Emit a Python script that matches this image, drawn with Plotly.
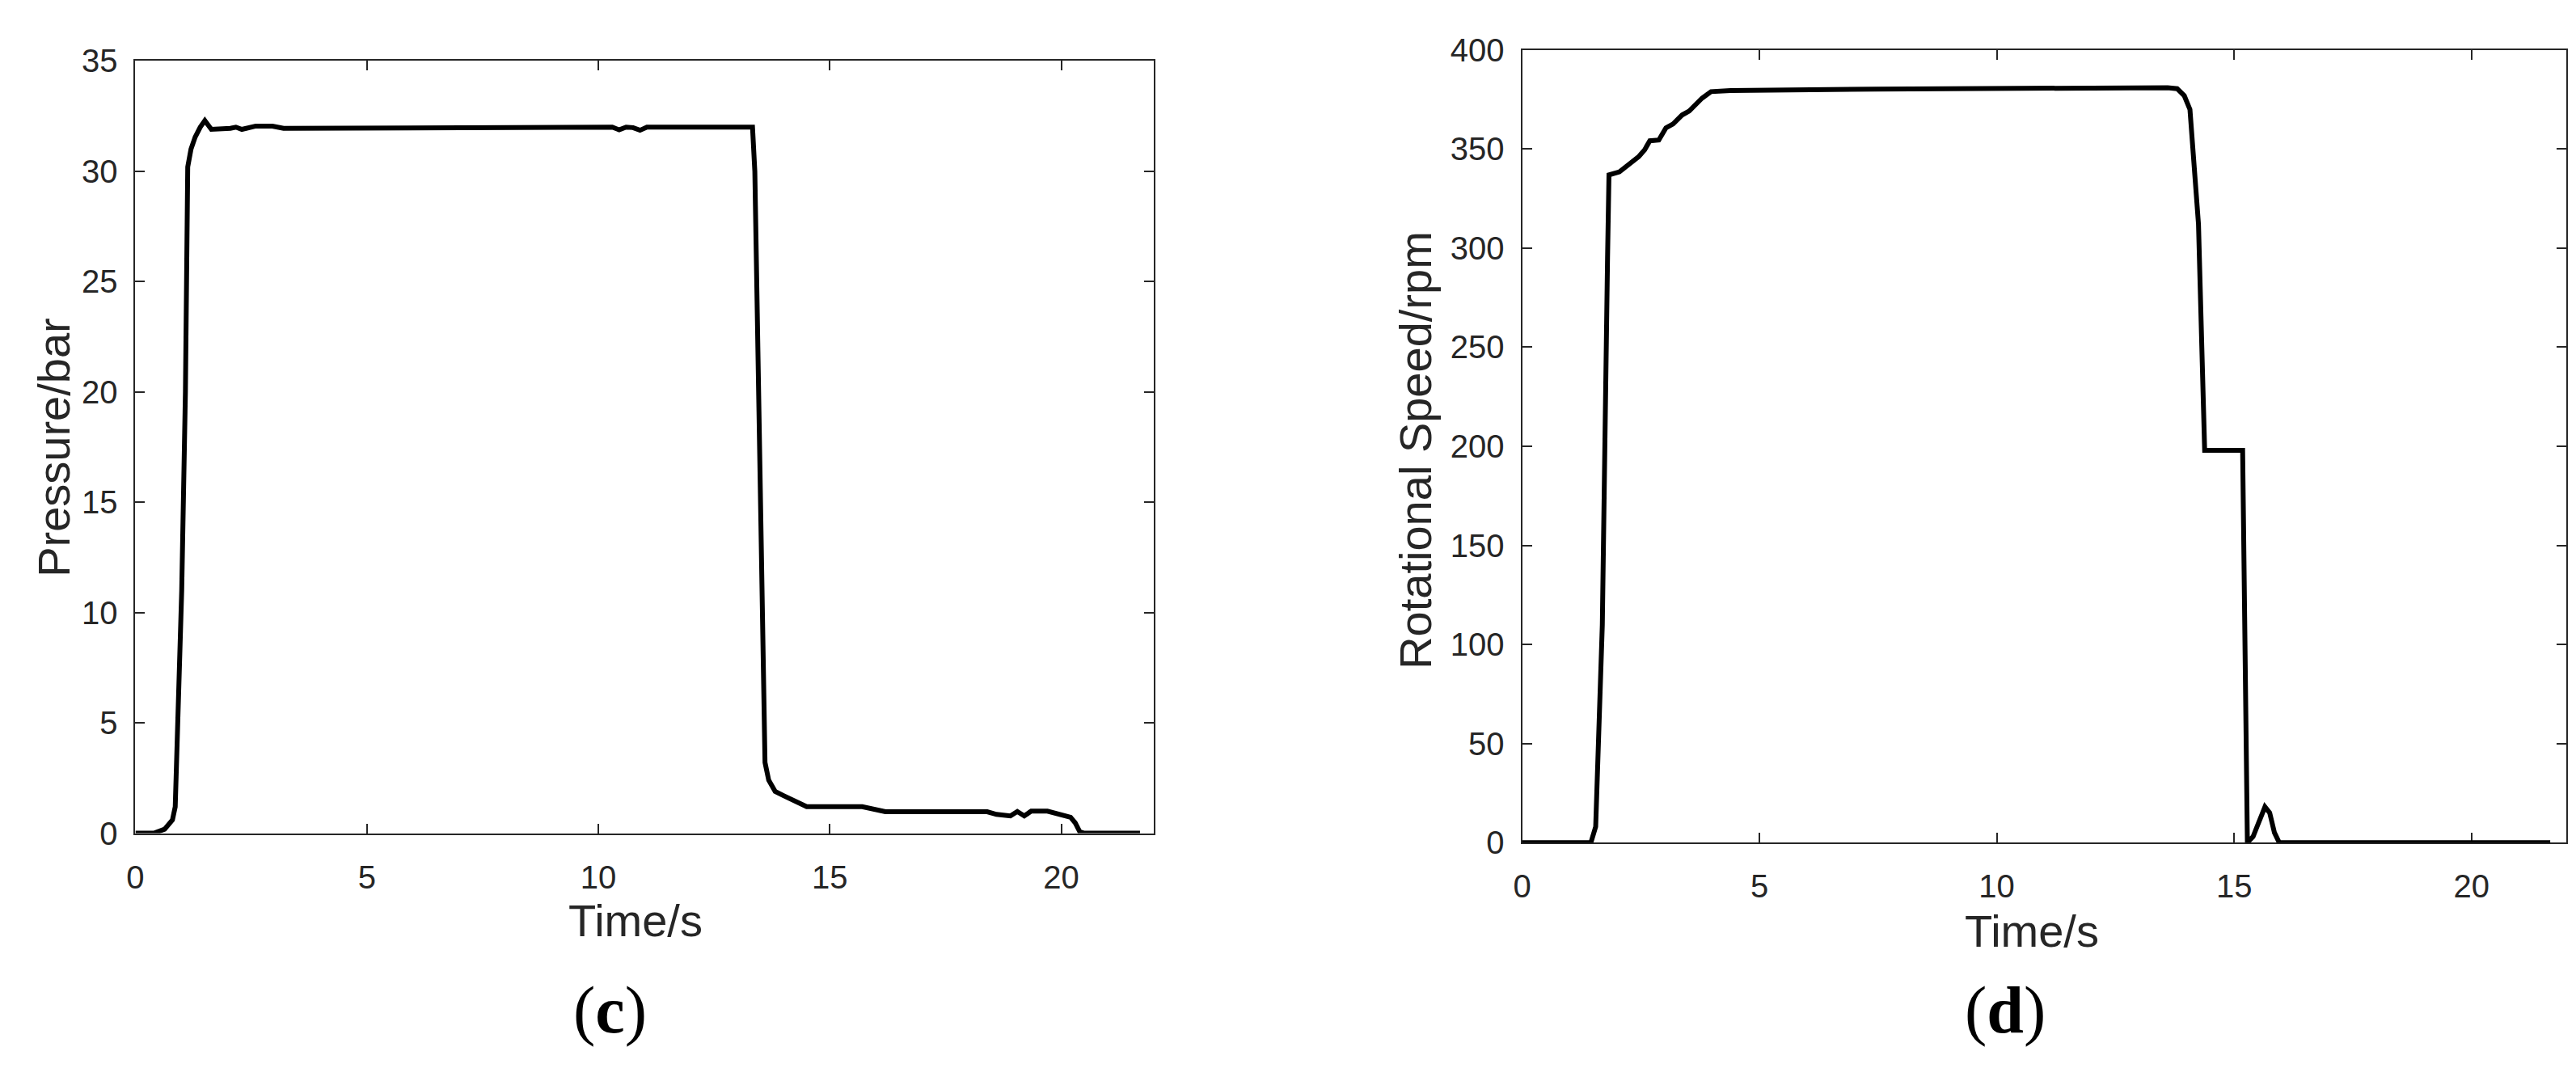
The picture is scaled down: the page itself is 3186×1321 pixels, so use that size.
import plotly.graph_objects as go

# (c) Pressure vs time
t_c = [0, 0.4, 0.63, 0.8, 0.86, 0.92, 1.0, 1.08, 1.13, 1.2, 1.29, 1.4, 1.5, 1.64, 1.8, 2.05, 2.17, 2.3, 2.6, 2.96, 3.2, 3.4, 3.67,
       4.0, 7.0, 10.3, 10.45, 10.6, 10.75, 10.9, 11.05, 12.0, 13.33, 13.38, 13.47, 13.55, 13.6, 13.68, 13.82, 14.0, 14.18,
       14.36, 14.5, 15.7, 16.2, 18.4, 18.6, 18.9, 19.05, 19.2, 19.35, 19.7, 19.95, 20.2, 20.3, 20.4, 20.5, 21.7]
p_c = [0, 0, 0.18, 0.6, 1.2, 4.8, 11, 20, 30.2, 31.0, 31.55, 32.0, 32.3, 31.9, 31.9, 31.95, 32.0, 31.9, 32.05, 32.05, 31.95, 31.95, 32.0,
       32.0, 32.0, 32.0, 31.88, 32.0, 31.98, 31.86, 32.0, 32.0, 32.0, 30.0, 18.0, 8.5, 3.2, 2.4, 1.89, 1.7, 1.5,
       1.36, 1.2, 1.2, 0.97, 0.97, 0.85, 0.78, 0.98, 0.78, 1.0, 1.0, 0.88, 0.72, 0.47, 0.06, 0, 0]

# (d) Rotational speed vs time
t_d = [0, 1.45, 1.55, 1.69, 1.8, 1.83, 2.05, 2.27, 2.46, 2.58, 2.69, 2.88, 3.03, 3.18, 3.37, 3.52, 3.79, 3.98, 4.39,
       7.42, 11.73, 13.6, 13.8, 13.95, 14.07, 14.15, 14.25, 14.32, 14.38, 15.18, 15.23, 15.28, 15.4, 15.55, 15.65, 15.75,
       15.85, 15.95, 21.66]
v_d = [0, 0, 8, 110, 295, 337, 338.5, 343, 346.3, 349.6, 354.2, 354.6, 360.7, 362.7, 367.2, 369.2, 375.7, 379, 379.6,
       380.3, 381.2, 381, 380.5, 377, 370, 345, 312, 250, 198, 198, 100, 0, 3, 12, 18, 15, 5, 0, 0]

x_ticks = [0, 5, 10, 15, 20]
y_ticks_c = [0, 5, 10, 15, 20, 25, 30, 35]
y_ticks_d = [0, 50, 100, 150, 200, 250, 300, 350, 400]

W, H = 3186, 1321
AX = "#262626"
SANS = "Liberation Sans, Arial, Helvetica, sans-serif"
SERIF = "Liberation Serif, Times New Roman, serif"

fig = go.Figure()
fig.add_trace(go.Scatter(x=t_c, y=p_c, mode="lines", line=dict(color="black", width=6),
                         xaxis="x", yaxis="y", showlegend=False))
fig.add_trace(go.Scatter(x=t_d, y=v_d, mode="lines", line=dict(color="black", width=6),
                         xaxis="x2", yaxis="y2", showlegend=False))

common = dict(showline=True, linecolor=AX, linewidth=2, mirror="ticks", ticks="inside", ticklen=12,
              tickwidth=2, tickcolor=AX, showgrid=False, zeroline=False, layer="below traces",
              tickfont=dict(family=SANS, size=40, color=AX))

fig.update_layout(
    width=W, height=H, margin=dict(l=0, r=0, t=0, b=0),
    paper_bgcolor="white", plot_bgcolor="white",
    xaxis=dict(domain=[149 / W, 1413 / W], range=[0, 22], tickvals=x_ticks, anchor="y",
               ticklabelstandoff=18, **common),
    yaxis=dict(domain=[1 - 1035 / H, 1 - 47 / H], range=[0, 35], tickvals=y_ticks_c, anchor="x",
               ticklabelstandoff=12, **common),
    xaxis2=dict(domain=[1870 / W, 3166 / W], range=[0, 22], tickvals=x_ticks, anchor="y2",
                ticklabelstandoff=18, **common),
    yaxis2=dict(domain=[1 - 1047 / H, 1 - 33 / H], range=[0, 400], tickvals=y_ticks_d, anchor="x2",
                ticklabelstandoff=12, **common),
)

def ann(text, px, py, size, family, angle=0):
    fig.add_annotation(text=text, x=px / W, y=1 - py / H, xref="paper", yref="paper",
                       showarrow=False, textangle=angle, xanchor="center", yanchor="middle",
                       font=dict(family=family, size=size, color=AX if family == SANS else "black"))

ann("Pressure/bar", 48, 541, 56, SANS, -90)
ann("Rotational Speed/rpm", 1738, 545, 56, SANS, -90)
ann("Time/s", 770, 1147, 56, SANS)
ann("Time/s", 2503, 1160, 56, SANS)
ann("(<b>c</b>)", 738, 1262, 82, SERIF)
ann("(<b>d</b>)", 2470, 1262, 82, SERIF)

fig.write_html("out.html")
